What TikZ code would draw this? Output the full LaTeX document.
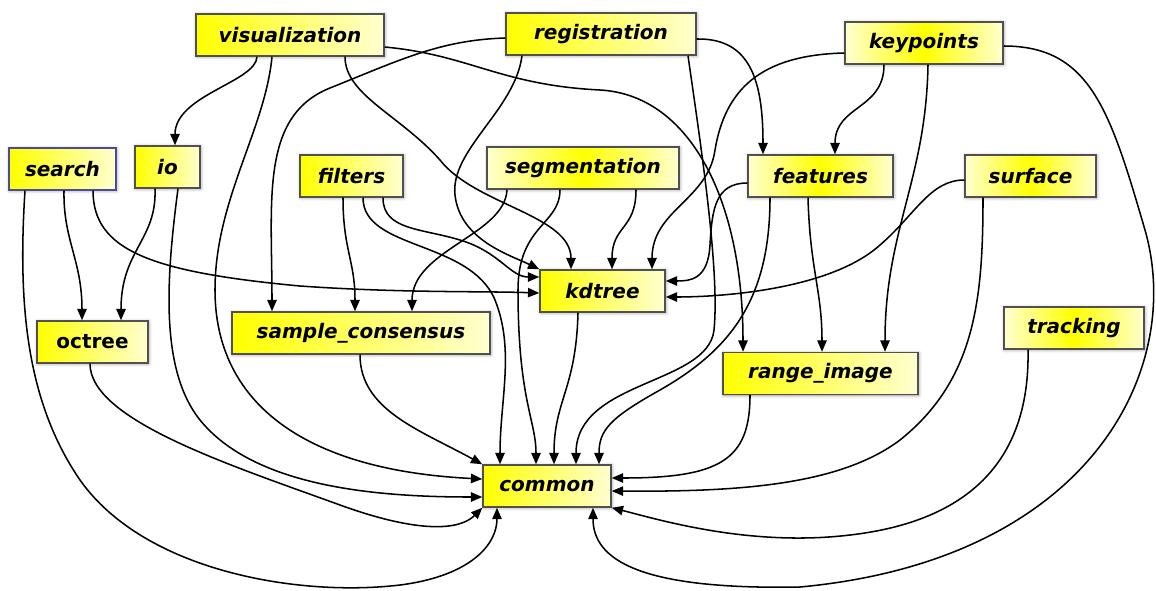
\documentclass[tikz,border=0pt]{standalone}
\usepackage{fontspec}
\setmainfont{DejaVu Sans}
\usetikzlibrary{arrows.meta,calc,shadows.blur}
\definecolor{pkgYellow}{HTML}{FFFF00}
\definecolor{pkgPale}{HTML}{FFFFD0}
\definecolor{pkgEdge}{HTML}{505050}
\definecolor{pkgBlue}{HTML}{4B4B9B}
\begin{document}
\begin{tikzpicture}[x=0.75pt,y=-0.75pt,>={Triangle[length=8.5pt,width=7pt]},
  pkg/.style={draw=pkgEdge,line width=1.1pt,left color=pkgYellow,right color=pkgPale,
    minimum height=31.5pt,minimum width=#1*0.75pt,inner sep=0pt,
    font=\fontsize{15}{18}\selectfont\bfseries\itshape,
    blur shadow={shadow xshift=0.5pt,shadow yshift=-0.5pt,shadow blur radius=2.5pt,shadow opacity=45}},
  pkgmid/.style={pkg=#1,left color=pkgPale,right color=pkgPale,middle color=pkgYellow},
  dep/.style={->,line width=1.15pt}
]
  \useasboundingbox (0,0) rectangle (1156,590);

  % packages
  \node[pkg=188] (vis) at (290,35) {visualization};
  \node[pkg=190] (reg) at (601,34) {registration};
  \node[pkgmid=158] (keyp) at (924,43) {keypoints};
  \node[pkg=107,draw=pkgBlue,line width=0.8pt] (search) at (62.5,169) {search};
  \node[pkg=65] (io) at (167.5,167) {io};
  \node[pkg=103] (filt) at (351.5,176) {filters};
  \node[pkgmid=192] (seg) at (583,168) {segmentation};
  \node[pkgmid=145] (feat) at (820.5,176) {features};
  \node[pkgmid=131] (surf) at (1030.5,176) {surface};
  \node[pkg=125] (kdtree) at (602.5,291) {kdtree};
  \node[pkg=111,font=\fontsize{15}{18}\selectfont\bfseries] (octree) at (92.5,342) {octree};
  \node[pkg=258] (sac) at (361,333) {sample\_consensus};
  \node[pkgmid=140] (track) at (1074,328) {tracking};
  \node[pkg=195] (rimg) at (820.5,373.5) {range\_image};
  \node[pkg=128] (common) at (547,486) {common};

  % visualization
  \draw[dep] ($(vis.south)+(-33,0)$) .. controls (256,82) and (175,95) .. ($(io.north)+(7.5,0)$);
  \draw[dep] ($(vis.south)+(-18,0)$) .. controls (265,130) and (215,200) .. (215,290) .. controls (215,400) and (300,470) .. ($(common.west)+(0,-7)$);
  \draw[dep] ($(vis.south)+(55,0)$) .. controls (345,95) and (400,115) .. (440,160) .. controls (475,205) and (571,215) .. ($(kdtree.north)+(-31.5,0)$);
  \draw[dep] ($(vis.east)+(0,12)$) .. controls (470,55) and (500,85) .. (600,90) .. controls (690,95) and (743,200) .. ($(rimg.north)+(-77.5,0)$);

  % registration
  \draw[dep] ($(reg.west)+(0,4)$) .. controls (440,40) and (400,60) .. (330,88) .. controls (260,116) and (272,200) .. ($(sac.north)+(-89,0)$);
  \draw[dep] ($(reg.south)+(-79,0)$) .. controls (515,110) and (450,150) .. (455,195) .. controls (460,240) and (510,255) .. (kdtree.north west);
  \draw[dep] ($(reg.south)+(87,0)$) .. controls (700,140) and (720,270) .. (714,330) .. controls (708,385) and (576,380) .. ($(common.north)+(29,0)$);
  \draw[dep] ($(reg.east)+(0,5)$) .. controls (750,38) and (763,80) .. ($(feat.north)+(-57.5,0)$);

  % keypoints
  \draw[dep] ($(keyp.west)+(0,10)$) .. controls (760,55) and (725,90) .. (715,150) .. controls (708,200) and (652,210) .. ($(kdtree.north)+(49.5,0)$);
  \draw[dep] ($(keyp.south)+(-40,0)$) .. controls (884,110) and (835,105) .. ($(feat.north)+(14.5,0)$);
  \draw[dep] ($(keyp.south)+(4,0)$) .. controls (926,180) and (885,230) .. ($(rimg.north)+(64.5,0)$);
  \draw[dep] ($(keyp.east)+(0,3)$) .. controls (1090,46) and (1110,110) .. (1145,230) .. controls (1185,370) and (1090,560) .. (800,587) .. controls (640,590) and (593,560) .. ($(common.south)+(46,0)$);

  % search, io
  \draw[dep] ($(search.south)+(1.5,0)$) .. controls (63,240) and (82,260) .. ($(octree.north)+(-10.5,0)$);
  \draw[dep] ($(search.south)+(30.5,0)$) .. controls (93,250) and (150,272) .. (300,286) .. controls (400,293) and (480,291) .. ($(kdtree.west)+(0,2)$);
  \draw[dep] ($(search.south)+(-37.5,0)$) .. controls (18,300) and (25,400) .. (80,480) .. controls (145,572) and (300,597) .. (400,585) .. controls (470,576) and (497,545) .. ($(common.south)+(-50,0)$);
  \draw[dep] ($(io.south)+(-12.5,0)$) .. controls (157,240) and (121,250) .. ($(octree.north)+(28.5,0)$);
  \draw[dep] ($(io.south)+(10.5,0)$) .. controls (166,280) and (160,370) .. (200,420) .. controls (255,488) and (380,497) .. ($(common.west)+(0,11)$);

  % filters
  \draw[dep] ($(filt.south)+(-8.5,0)$) .. controls (343,250) and (355,260) .. ($(sac.north)+(-6,0)$);
  \draw[dep] ($(filt.south)+(11.5,0)$) .. controls (363,250) and (470,240) .. (495,300) .. controls (515,350) and (500,400) .. ($(common.north)+(-47,0)$);
  \draw[dep] ($(filt.south)+(31.5,0)$) .. controls (383,230) and (420,228) .. (460,240) .. controls (500,252) and (510,277) .. ($(kdtree.west)+(0,-14)$);

  % segmentation
  \draw[dep] ($(seg.south)+(-76,0)$) .. controls (505,235) and (412,250) .. ($(sac.north)+(51,0)$);
  \draw[dep] ($(seg.south)+(-23,0)$) .. controls (560,225) and (518,225) .. (518,290) .. controls (518,400) and (536,420) .. ($(common.north)+(-11,0)$);
  \draw[dep] ($(seg.south)+(53,0)$) .. controls (636,230) and (612,225) .. ($(kdtree.north)+(9.5,0)$);

  % features, surface
  \draw[dep] ($(feat.west)+(0,7)$) .. controls (715,183) and (712,210) .. (710,245) .. controls (708,280) and (690,281) .. ($(kdtree.east)+(0,-10)$);
  \draw[dep] ($(feat.south)+(-50.5,0)$) .. controls (770,300) and (730,350) .. (660,390) .. controls (610,418) and (599,430) .. ($(common.north)+(52,0)$);
  \draw[dep] ($(feat.south)+(-12.5,0)$) .. controls (810,270) and (822,290) .. ($(rimg.north)+(1.5,0)$);
  \draw[dep] ($(surf.west)+(0,4)$) .. controls (930,180) and (915,215) .. (880,245) .. controls (830,290) and (720,297) .. ($(kdtree.east)+(0,6)$);
  \draw[dep] ($(surf.south)+(-47.5,0)$) .. controls (983,300) and (975,380) .. (900,440) .. controls (840,485) and (740,492) .. ($(common.east)+(0,5)$);

  % into common
  \draw[dep] ($(track.south)+(-46,0)$) .. controls (1030,450) and (980,520) .. (850,535) .. controls (750,547) and (660,520) .. (common.south east);
  \draw[dep] ($(rimg.south)+(-70.5,0)$) .. controls (750,460) and (720,478) .. ($(common.east)+(0,-8)$);
  \draw[dep] ($(kdtree.south)+(-24.5,0)$) .. controls (576,390) and (554,400) .. ($(common.north)+(7,0)$);
  \draw[dep] ($(octree.south)+(-2.5,0)$) .. controls (90,420) and (230,465) .. (340,505) .. controls (420,534) and (460,530) .. (common.south west);
  \draw[dep] ($(sac.south)+(-1,0)$) .. controls (360,410) and (420,430) .. (common.north west);
\end{tikzpicture}
\end{document}
